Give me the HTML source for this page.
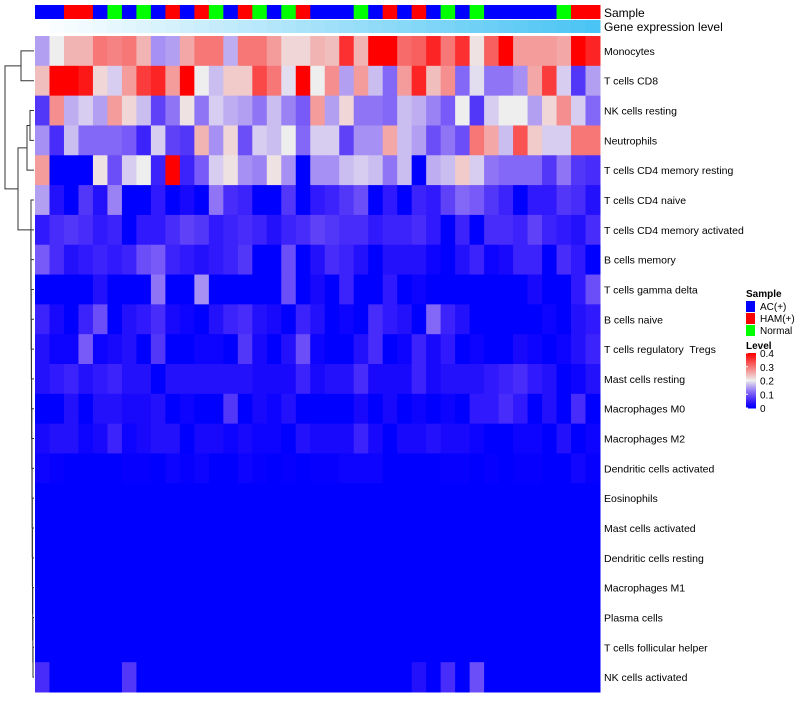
<!DOCTYPE html>
<html><head><meta charset="utf-8"><style>
body{margin:0;background:#fff;width:800px;height:700px;overflow:hidden;font-family:"Liberation Sans",sans-serif}
text{white-space:pre}
</style></head><body>
<svg id="chart" width="800" height="700" xmlns="http://www.w3.org/2000/svg" font-family="Liberation Sans, sans-serif"></svg>
<script>
const rowNames=["Monocytes","T cells CD8","NK cells resting","Neutrophils","T cells CD4 memory resting","T cells CD4 naive","T cells CD4 memory activated","B cells memory","T cells gamma delta","B cells naive","T cells regulatory  Tregs","Mast cells resting","Macrophages M0","Macrophages M2","Dendritic cells activated","Eosinophils","Mast cells activated","Dendritic cells resting","Macrophages M1","Plasma cells","T cells follicular helper","NK cells activated"];
const sampleGroups=["A","A","H","H","A","N","A","N","A","H","A","H","N","A","H","N","A","N","H","A","A","A","N","A","H","A","H","A","N","A","N","A","A","A","A","A","N","H","H"];
const r0=[.15,.2,.25,.25,.3,.29,.3,.25,.14,.15,.26,.3,.3,.16,.3,.3,.27,.22,.22,.25,.24,.36,.25,.4,.4,.31,.32,.37,.3,.36,.21,.32,.4,.27,.27,.27,.26,.4,.37];
const r1=[.24,.4,.4,.38,.22,.18,.27,.35,.37,.27,.4,.2,.17,.23,.23,.34,.3,.19,.4,.2,.28,.15,.27,.17,.11,.27,.37,.24,.28,.11,.19,.12,.12,.14,.26,.35,.18,.07,.15];
const r2=[.07,.28,.16,.18,.15,.27,.22,.17,.08,.12,.21,.12,.18,.16,.15,.12,.17,.13,.1,.27,.15,.22,.12,.12,.11,.17,.16,.13,.1,.2,.07,.18,.2,.2,.15,.22,.28,.18,.11];
const r3=[.14,.06,.17,.11,.11,.11,.1,.05,.18,.08,.07,.25,.14,.22,.09,.18,.17,.2,.11,.18,.18,.08,.14,.14,.26,.17,.15,.09,.12,.09,.3,.26,.17,.33,.23,.18,.18,.3,.3];
const r4=[.27,0,0,0,.21,.09,.18,.2,.05,.4,.05,.1,.18,.21,.14,.13,.21,.14,0,.14,.14,.17,.18,.17,.12,.17,0,.16,.17,.23,.18,.12,.11,.11,.11,.07,.12,.07,.06];
const r5=[.15,.03,0,.07,.03,.13,0,0,.04,0,.02,0,.12,.06,.05,0,0,.07,0,.04,.05,.07,.09,0,.04,0,.05,.04,.08,.11,.1,.07,.05,0,.04,.04,.07,.06,.03];
const r6=[.04,.06,.07,.06,.04,.05,0,.04,.04,.06,.08,.07,.04,.05,.06,.05,.03,.05,.06,.08,.07,.06,.06,.04,.05,.05,.06,.04,0,.05,0,.06,.06,.05,.08,.05,.04,.03,.06];
const r7=[.1,.06,.03,.04,.05,.04,.05,.09,.1,.05,.04,.03,.04,.05,.07,0,0,.09,0,.03,.06,.05,.03,0,.03,.03,.03,.01,0,.03,.05,.01,.02,.05,.05,0,.06,.04,0];
const r8=[0,0,0,0,.03,0,0,0,.12,0,0,.14,0,0,0,0,0,.09,0,.02,0,.05,0,0,.04,0,.01,0,0,0,0,0,0,0,.02,0,0,.04,.09];
const r9=[.05,.02,0,.05,.09,0,.03,.04,.06,.02,.01,0,.03,.05,.06,.03,.02,0,.05,.03,0,.01,0,.06,.04,.03,0,.11,.05,.03,0,0,0,0,0,.01,0,.03,.04];
const r10=[.03,.01,.01,.1,.01,.02,.03,0,.07,0,0,.01,.01,0,.07,.02,0,.03,.09,.01,0,0,.03,.06,0,.01,.05,.02,.04,0,.01,0,0,.02,.01,0,.01,.03,.05];
const r11=[.03,.04,.05,.03,.04,.05,.03,.03,0,.03,.03,.03,.03,.03,.03,.02,.02,.02,.05,.02,.03,.03,.06,.02,.02,.02,.05,.02,.03,.03,.03,.04,.05,.06,.04,.03,0,.01,.03];
const r12=[0,0,.03,0,.03,.03,.02,.02,.03,0,.01,0,0,.07,0,.02,.01,.03,0,0,0,0,.02,0,.02,0,.01,0,.01,0,.04,.04,.06,.04,0,.03,0,.06,0];
const r13=[.02,.03,.03,.01,.02,.05,.01,.02,.03,.03,0,.02,.02,.01,.02,.01,.01,0,.03,.02,.02,.02,.05,.02,0,.02,.02,.03,.02,.02,.01,0,0,.01,.01,0,.03,0,.01];
const r14=[.01,.005,0,0,0,0,.005,.005,0,.01,.005,.01,0,0,.01,.005,0,.005,0,.005,.005,.01,.01,.01,0,0,0,0,.005,.005,0,.005,0,.005,.005,0,0,.015,.005];
const zeros=new Array(39).fill(0);
const r21=[.06,0,0,0,0,0,.07,0,0,0,0,0,0,0,0,0,0,0,0,0,0,0,0,0,0,0,.03,0,.06,0,.09,0,0,0,0,0,0,0,0];
const values=[r0,r1,r2,r3,r4,r5,r6,r7,r8,r9,r10,r11,r12,r13,r14,zeros,zeros,zeros,zeros,zeros,zeros,r21];
const legendTicks=[0,0.1,0.2,0.3,0.4];

const NS="http://www.w3.org/2000/svg";
const svg=document.getElementById('chart');
function mk(t,a){const e=document.createElementNS(NS,t);for(const k in a)e.setAttribute(k,a[k]);svg.appendChild(e);return e;}
const X0=35,X1=600,Y0=36,Y1=692;
const nC=sampleGroups.length,nR=rowNames.length;
const cw=(X1-X0)/nC,rh=(Y1-Y0)/nR;
const xPos=i=>X0+i*cw, yPos=j=>Y0+j*rh;
function lerp(a,b,t){return Math.round(a+(b-a)*t);}
function col(v){v=Math.max(0,Math.min(0.4,v));
 if(v<=0.2){const t=v/0.2;return `rgb(${Math.round(238*t)},${Math.round(238*Math.pow(t,1.4))},${lerp(255,238,t)})`;}
 const t=(v-0.2)/0.2;return `rgb(${lerp(238,255,t)},${lerp(238,0,t)},${lerp(238,0,t)})`;}
const grpCol={A:"#0000ff",H:"#ff0000",N:"#00ff00"};
for(let i=0;i<nC;i++){
 let e=mk('rect',{x:xPos(i),y:5,width:cw+0.5,height:14,fill:grpCol[sampleGroups[i]]});
 
 
 const t=i/(nC-1);
 e=mk('rect',{x:xPos(i),y:20,width:cw+0.5,height:13,fill:`rgb(${lerp(255,74,t)},${lerp(255,196,t)},${lerp(255,244,t)})`});
 
 
}
let t1=mk('text',{x:604,y:17,'font-size':12});t1.textContent="Sample";


let t2=mk('text',{x:604,y:31,'font-size':12});t2.textContent="Gene expression level";


for(let j=0;j<nR;j++){
 for(let i=0;i<nC;i++){
  const e=mk('rect',{x:xPos(i),y:yPos(j),width:cw+0.5,height:rh+0.5,fill:col(values[j][i])});
  
  
 }
 const t=mk('text',{x:604,y:yPos(j)+rh/2+4,'font-size':10.5});t.textContent=rowNames[j];
 
 
}
const cy=j=>yPos(j)+rh/2;
const g=document.createElementNS(NS,'g');g.setAttribute('stroke','#333');g.setAttribute('fill','none');g.setAttribute('stroke-width','1');svg.appendChild(g);


function br(x,ya,xa,yb,xb){const p=document.createElementNS(NS,'path');p.setAttribute('d',`M${xa},${ya}H${x}V${yb}H${xb}`);g.appendChild(p);}
br(21,cy(0),34,cy(1),34);
br(30,cy(2),34,cy(3),34);
const yB=(cy(2)+cy(3))/2;
br(27,yB,30,cy(4),34);
const yC=(yB+cy(4))/2;
let prevY=cy(nR-1),prevX=34;
for(let j=nR-2;j>=6;j--){const x=33-(nR-2-j)*0.15;br(x,cy(j),34,prevY,prevX);prevY=(cy(j)+prevY)/2;prevX=x;}
br(31,cy(5),34,prevY,prevX);
const yD=(cy(5)+prevY)/2;
br(18,yC,27,yD,31);
const yF=(yC+yD)/2;
br(5,(cy(0)+cy(1))/2,21,yF,18);
function txt(x,y,s,w,name){const t=mk('text',{x:x,y:y,'font-size':10,'font-weight':w||'normal'});t.textContent=s;return t;}
txt(746,297,"Sample","bold","legend-title-sample");
const lg=[["A","AC(+)"],["H","HAM(+)"],["N","Normal"]];
lg.forEach((d,k)=>{const r=mk('rect',{x:746,y:301+k*12,width:9,height:11,fill:grpCol[d[0]]});
 
 
 txt(760,310+k*12,d[1],null,'legend-entry');});
txt(746,349,"Level","bold","legend-title-level");
const cbTop=353,cbBot=408;
for(let k=0;k<55;k++){const v=0.4*(1-k/54);const r=mk('rect',{x:746,y:cbTop+k,width:10,height:1.5,fill:col(v)});
 
 }
legendTicks.forEach(v=>{const y=cbBot-(v/0.4)*(cbBot-cbTop);
 const l=mk('line',{x1:746,x2:748,y1:y,y2:y,stroke:'#fff'});
 
 
 txt(760,y+4,String(v),null,'colorbar-tick-label');});
</script>
</body></html>
